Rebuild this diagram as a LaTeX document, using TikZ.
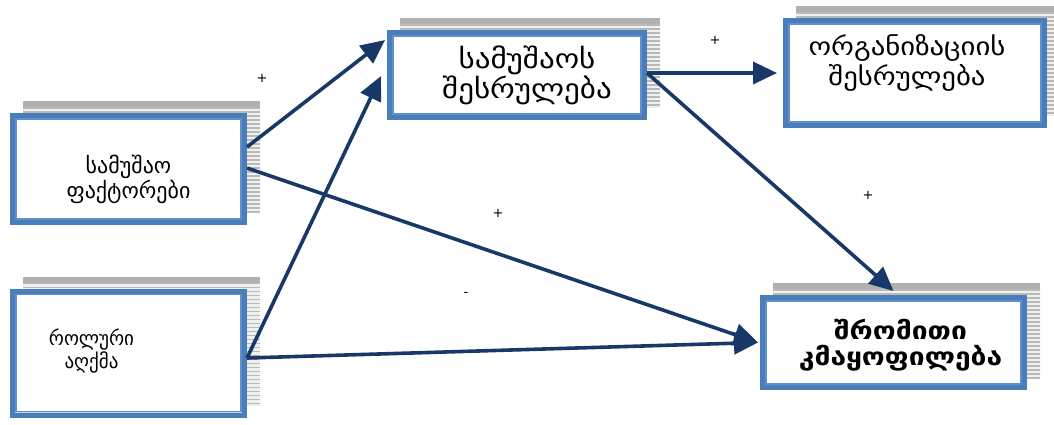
\documentclass[tikz,border=0pt]{standalone}
\usepackage{fontspec}
\newfontfamily\geo[FakeStretch=1.15]{DejaVu Sans}
\newfontfamily\geon{DejaVu Sans}
\newfontfamily\geoc[FakeStretch=0.95]{DejaVu Sans}
\usetikzlibrary{arrows.meta,backgrounds}
\definecolor{boxblue}{RGB}{74,126,187}
\definecolor{gapblue}{RGB}{196,214,238}
\definecolor{innerblue}{RGB}{96,143,203}
\definecolor{navy}{RGB}{24,56,104}
\tikzset{
  box/.style={draw=boxblue, line width=5pt, fill=gapblue, inner sep=0pt},
  txt/.style={align=center, inner sep=0pt, text=black},
  sign/.style={font=\geon\fontsize{13}{13}\selectfont, inner sep=0pt},
  link/.style={draw=navy, line width=3.6pt, -{Triangle[length=24pt,width=22pt]}},
  stripe/.style={draw=gray!55, line width=1.7pt},
  shadowbase/.style={fill=gray!12},
  shadowtop/.style={fill=gray!62},
  inner/.style={draw=innerblue, line width=1.8pt, fill=white}
}
\newcommand{\myframebox}[1]{%
  \draw[inner] ([shift={(6pt,-6pt)}]#1.north west) rectangle ([shift={(-6pt,6pt)}]#1.south east);
  \begin{pgfonlayer}{background}
    \begin{scope}
      \clip ([shift={(13pt,12pt)}]#1.north west) rectangle ([shift={(13pt,12pt)}]#1.south east);
      \fill[shadowbase] ([shift={(13pt,12pt)}]#1.north west) rectangle ([shift={(13pt,12pt)}]#1.south east);
      \foreach \k in {0,...,36} {\draw[stripe] ([shift={(13pt,{5pt-4pt*\k})}]#1.north west) -- ++(300pt,0pt);}
      \fill[shadowtop] ([shift={(13pt,12pt)}]#1.north west) rectangle ([shift={(13pt,6pt)}]#1.north east);
    \end{scope}
  \end{pgfonlayer}}
\begin{document}
\begin{tikzpicture}[x=1pt,y=-1pt]
\useasboundingbox (0,0) rectangle (1054,425);
% boxes
\node[box, minimum width=232pt, minimum height=107pt] (b1) at (128.5,169) {};
\node[box, minimum width=255pt, minimum height=85pt] (b2) at (517,75) {};
\node[box, minimum width=259pt, minimum height=105pt] (b3) at (915,73) {};
\node[box, minimum width=232pt, minimum height=124pt] (b4) at (128.5,353) {};
\node[box, minimum width=262pt, minimum height=90pt] (b5) at (893.5,342.5) {};
\myframebox{b1}\myframebox{b2}\myframebox{b3}\myframebox{b4}\myframebox{b5}
% texts
\node[txt, font=\geon\fontsize{22}{25}\selectfont] (t1) at ([shift={(0pt,-10pt)}]b1.center) {სამუშაო\\ფაქტორები};
\node[txt, font=\geo\fontsize{27}{28}\selectfont] (t2) at ([shift={(10pt,0pt)}]b2.center) {სამუშაოს\\შესრულება};
\node[txt, font=\geo\fontsize{25}{30}\selectfont] (t3) at ([shift={(-8pt,10pt)}]b3.center) {ორგანიზაციის\\შესრულება};
\node[txt, font=\geoc\fontsize{20}{23}\selectfont] (t4) at ([shift={(-37pt,2pt)}]b4.center) {როლური\\აღქმა};
\node[txt, font=\geo\bfseries\fontsize{24.5}{26}\selectfont] (t5) at ([shift={(7pt,-2.5pt)}]b5.center) {შრომითი\\კმაყოფილება};
% connectors
\draw[link] ([yshift=22pt]b1.east) -- ([shift={(-2pt,35pt)}]b2.west);
\draw[link] ([yshift=-5pt]b4.east) -- ([shift={(-6pt,-1pt)}]b2.west);
\draw[link] ([yshift=1pt]b1.east) -- ([xshift=-2pt]b5.west);
\draw[link] ([yshift=-5pt]b4.east) -- ([xshift=-2pt]b5.west);
\draw[link] ([yshift=2pt]b2.east) -- ([xshift=-6pt]b3.west);
\draw[link] ([yshift=2pt]b2.east) -- ([yshift=4pt]b5.north);
% signs
\node[sign] (s1) at (262,78) {+};
\node[sign] (s2) at (715,40) {+};
\node[sign] (s3) at (498,213) {+};
\node[sign] (s4) at (466,294) {-};
\node[sign] (s5) at (868,195) {+};
\end{tikzpicture}
\end{document}
